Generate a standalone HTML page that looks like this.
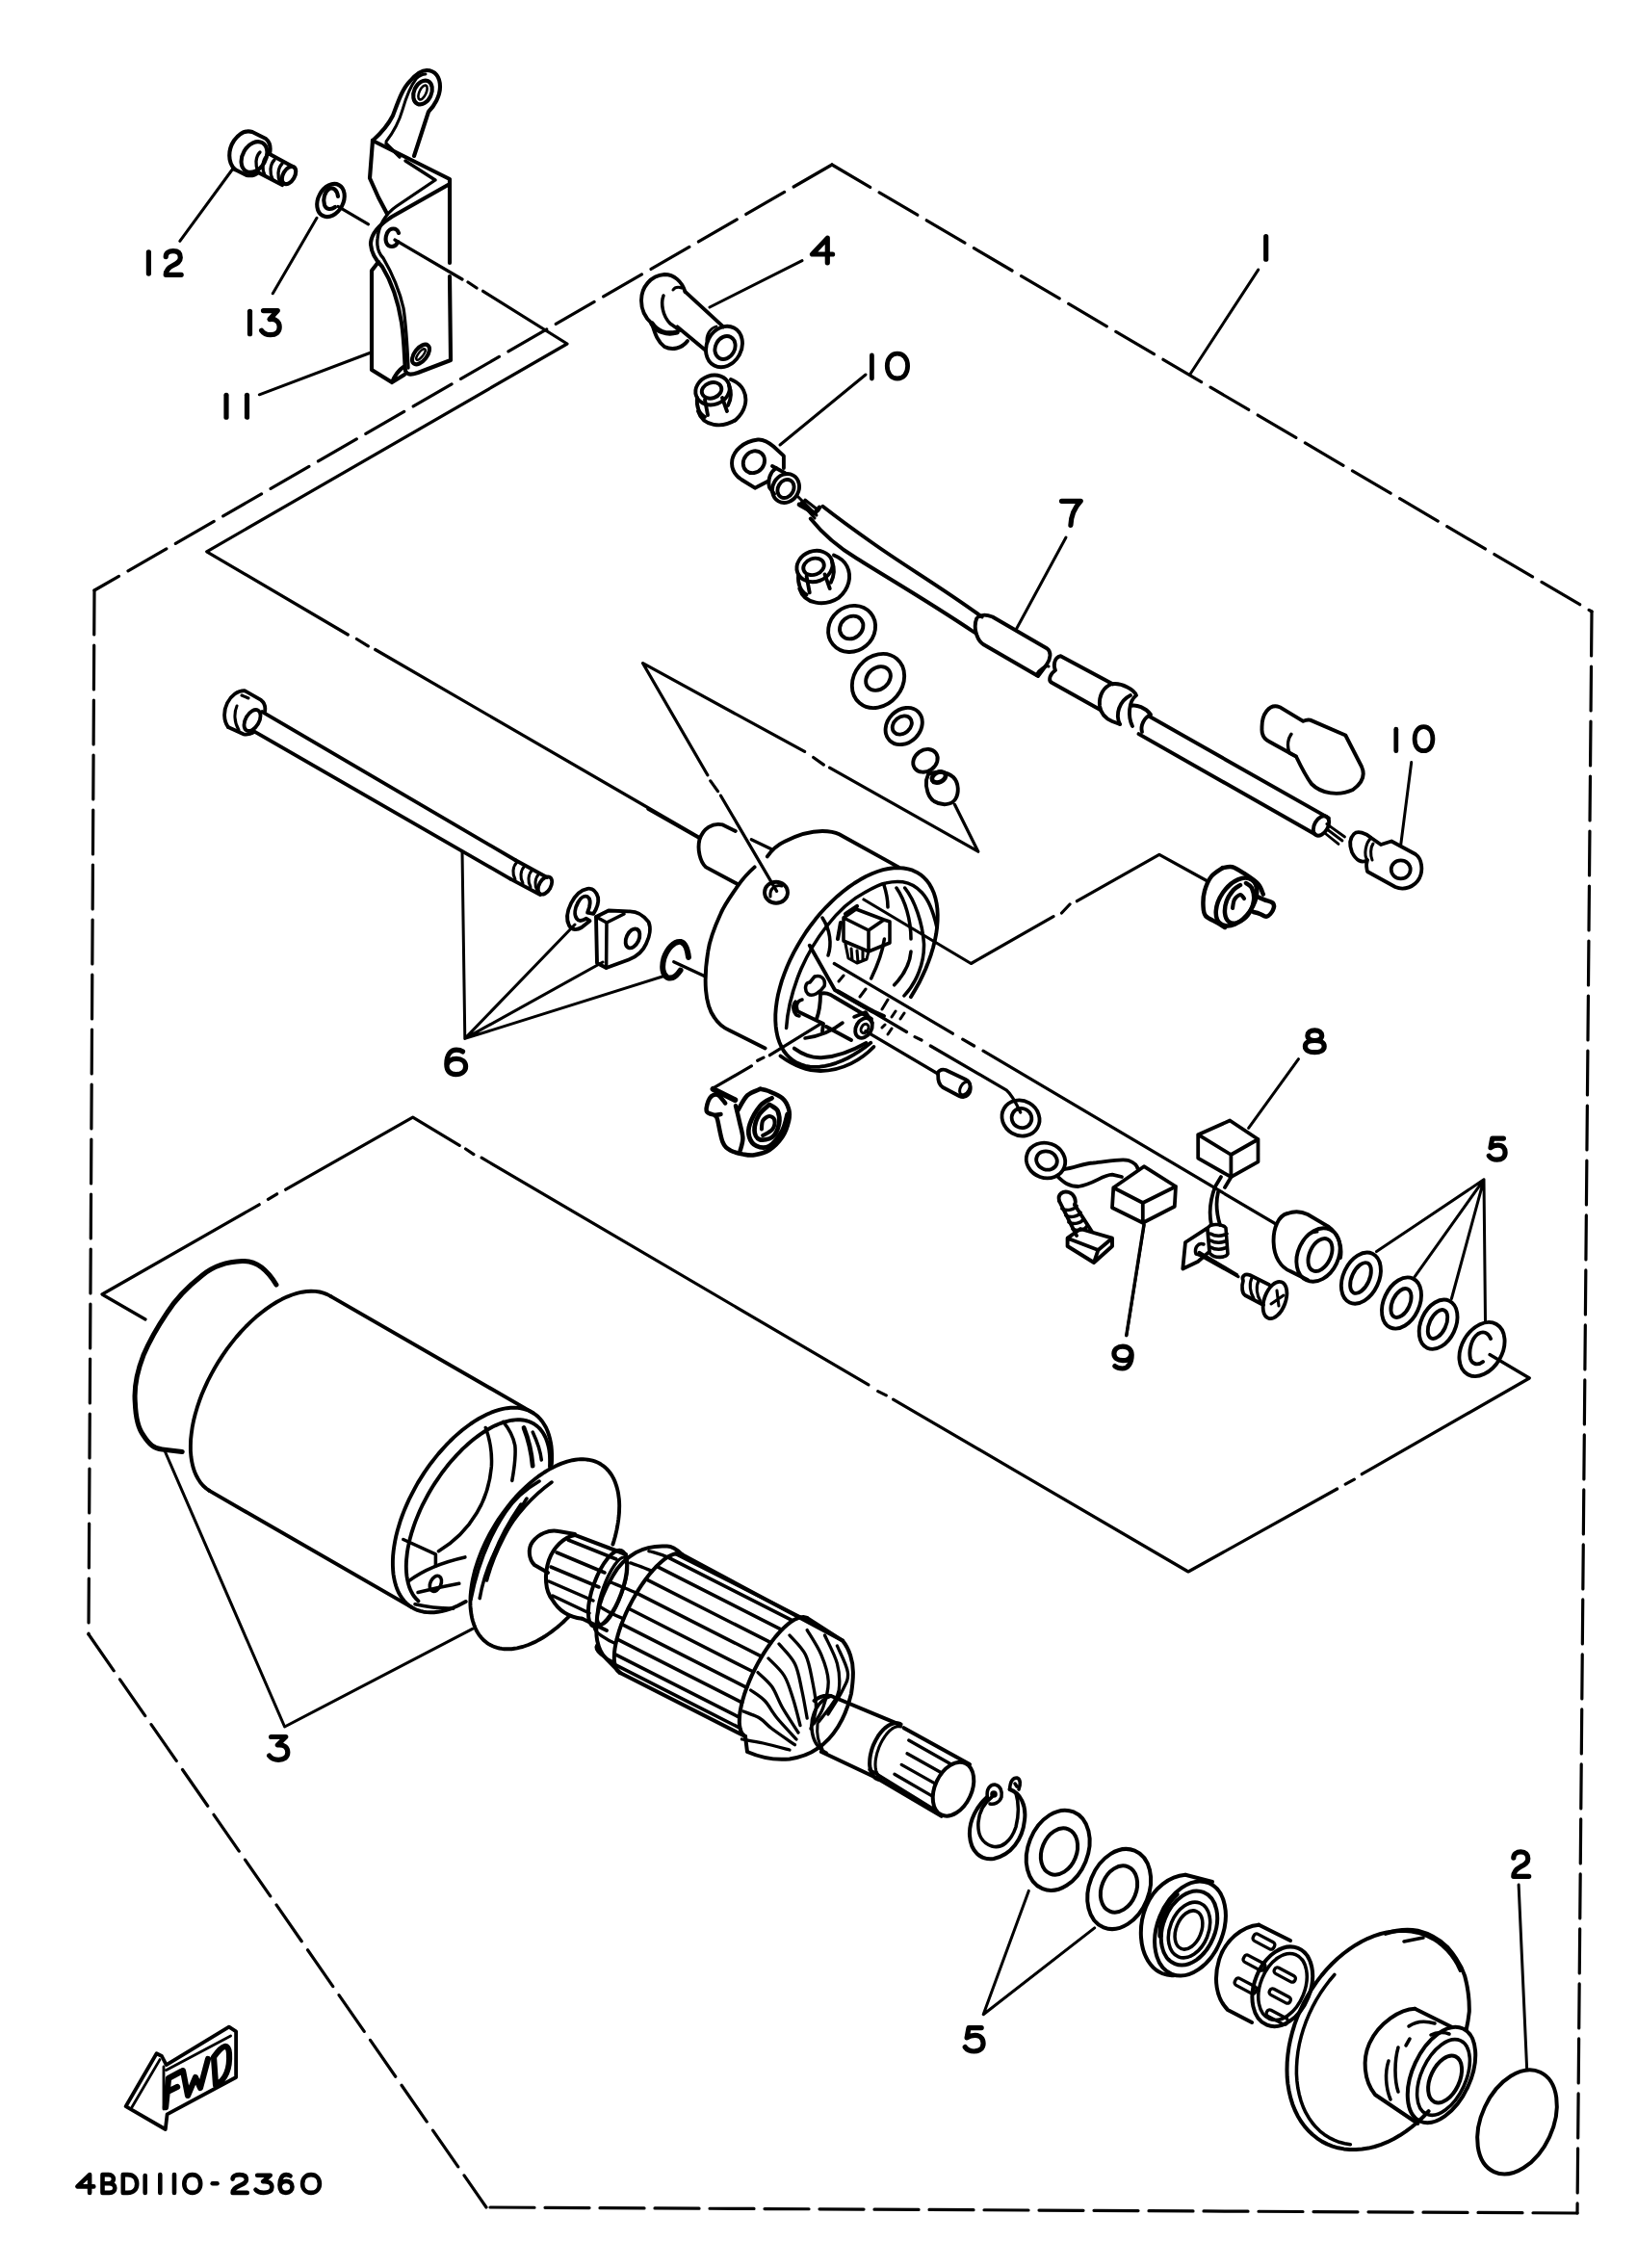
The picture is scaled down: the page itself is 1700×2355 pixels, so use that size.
<!DOCTYPE html>
<html><head><meta charset="utf-8">
<style>
html,body{margin:0;padding:0;background:#fff;overflow:hidden;}
svg{display:block;}
</style></head>
<body>
<svg width="1700" height="2355" viewBox="0 0 1700 2355" fill="none" stroke="#000" stroke-width="3" stroke-linecap="round" stroke-linejoin="round">
<!-- boundary -->
<g stroke-width="3.2" stroke-dasharray="46 11">
<path d="M864 171 L1653 635"/>
<path d="M864 171 L98 613"/>
<path d="M98 613 L92 1697"/>
<path d="M92 1697 L505 2292"/>
<path d="M1638 2298 L505 2292"/>
<path d="M1653 635 L1638 2298"/>
</g>
<!-- labels -->
<g>
<path d="M 154.4 261.8 L 154.4 284.1" stroke-width="5.2"/>
<path d="M 172.2 266.6 C 172.2 262.8 175.5 260.6 179.8 260.6 C 184.8 260.6 187.3 263.2 187.3 267.4 C 187.3 271.7 184.0 273.4 179.8 275.5 C 174.7 278.0 172.2 281.0 172.2 285.3 L 188.2 285.3" stroke-width="5.2"/>
<path d="M 259.5 323.3 L 259.5 346.7" stroke-width="5.2"/>
<path d="M 273.5 322.6 L 288.3 322.6 L 280.0 331.6 C 286.5 330.7 290.2 334.3 290.2 339.6 C 290.2 345.0 286.5 347.7 280.9 347.7 C 277.2 347.7 273.5 345.9 271.6 343.2" stroke-width="5.2"/>
<path d="M 235.0 410.3 L 235.0 433.2" stroke-width="5.2"/>
<path d="M 256.5 410.3 L 256.5 433.2" stroke-width="5.2"/>
<path d="M 859.3 272.8 L 859.3 247.2 L 843.5 264.0 L 864.6 264.0" stroke-width="5.2"/>
<path d="M 905.4 369.0 L 905.4 393.0" stroke-width="4.8"/>
<path d="M 931.9 367.2 C 938.4 367.2 942.6 372.5 942.6 380.1 C 942.6 387.7 938.4 393.0 931.9 393.0 C 925.5 393.0 921.3 387.7 921.3 380.1 C 921.3 372.5 925.5 367.2 931.9 367.2 Z" stroke-width="4.8"/>
<path d="M 1314.7 245.7 L 1314.7 269.2" stroke-width="5.2"/>
<path d="M 1102.5 520.3 L 1122.3 520.3 C 1116.3 526.6 1112.4 533.7 1111.9 545.4" stroke-width="5.2"/>
<path d="M 1449.8 757.2 L 1449.8 779.7" stroke-width="4.8"/>
<path d="M 1478.5 754.7 C 1484.2 754.7 1487.9 759.8 1487.9 767.2 C 1487.9 774.6 1484.2 779.7 1478.5 779.7 C 1472.8 779.7 1469.1 774.6 1469.1 767.2 C 1469.1 759.8 1472.8 754.7 1478.5 754.7 Z" stroke-width="4.8"/>
<path d="M 1365.3 1069.8 C 1369.7 1069.8 1372.7 1072.2 1372.7 1075.3 C 1372.7 1078.5 1369.7 1080.5 1365.3 1080.5 C 1360.9 1080.5 1357.9 1078.5 1357.9 1075.3 C 1357.9 1072.2 1360.9 1069.8 1365.3 1069.8 Z M 1365.3 1080.5 C 1371.2 1080.5 1375.2 1082.8 1375.2 1086.4 C 1375.2 1090.3 1371.2 1092.7 1365.3 1092.7 C 1359.4 1092.7 1355.4 1090.3 1355.4 1086.4 C 1355.4 1082.8 1359.4 1080.5 1365.3 1080.5 Z" stroke-width="5.2"/>
<path d="M 1561.4 1182.1 L 1549.7 1182.1 L 1548.0 1191.6 C 1550.1 1190.0 1552.2 1189.2 1555.5 1189.2 C 1560.6 1189.2 1563.1 1192.4 1563.1 1196.7 C 1563.1 1201.4 1559.7 1204.2 1554.7 1204.2 C 1550.9 1204.2 1548.0 1202.6 1546.3 1200.2" stroke-width="5.2"/>
<path d="M 1174.7 1406.8 C 1173.8 1410.7 1170.6 1412.7 1166.0 1412.7 C 1160.6 1412.7 1156.9 1409.9 1156.9 1405.6 C 1156.9 1401.3 1160.6 1398.1 1166.0 1398.1 C 1171.5 1398.1 1175.2 1401.3 1175.2 1406.8 C 1175.2 1415.5 1171.5 1421.0 1165.6 1421.0 C 1162.4 1421.0 1159.7 1420.2 1157.9 1418.6" stroke-width="5.2"/>
<path d="M 480.5 1091.9 C 479.0 1090.8 476.5 1090.1 474.0 1090.1 C 467.4 1090.1 463.8 1096.3 463.8 1105.0 C 463.8 1112.1 467.4 1115.6 473.4 1115.6 C 479.5 1115.6 483.6 1112.1 483.6 1107.2 C 483.6 1102.4 479.5 1099.3 474.0 1099.3 C 468.4 1099.3 464.9 1102.4 464.1 1105.9" stroke-width="5.2"/>
<path d="M 281.6 1803.5 L 296.8 1803.5 L 288.2 1812.0 C 294.9 1811.1 298.8 1814.5 298.8 1819.6 C 298.8 1824.7 294.9 1827.3 289.2 1827.3 C 285.4 1827.3 281.6 1825.6 279.6 1823.0" stroke-width="5.2"/>
<path d="M 1019.2 2105.6 L 1006.0 2105.6 L 1004.1 2116.0 C 1006.5 2114.3 1008.8 2113.4 1012.6 2113.4 C 1018.2 2113.4 1021.1 2116.9 1021.1 2121.7 C 1021.1 2126.9 1017.3 2130.0 1011.6 2130.0 C 1007.4 2130.0 1004.1 2128.2 1002.2 2125.6" stroke-width="5.2"/>
<path d="M 1571.8 1929.1 C 1571.8 1925.1 1575.1 1922.9 1579.3 1922.9 C 1584.3 1922.9 1586.8 1925.6 1586.8 1929.9 C 1586.8 1934.3 1583.5 1936.0 1579.3 1938.2 C 1574.3 1940.8 1571.8 1943.9 1571.8 1948.3 L 1587.7 1948.3" stroke-width="5.2"/>
<path d="M 93.1 2276.9 L 93.1 2258.1 L 80.4 2270.4 L 97.3 2270.4" stroke-width="4.6"/>
<path d="M 106.5 2258.1 L 106.5 2276.9 L 113.6 2276.9 C 117.2 2276.9 119.3 2275.0 119.3 2272.1 C 119.3 2269.1 117.2 2267.2 113.6 2267.2 L 106.5 2267.2 M 106.5 2258.1 L 112.9 2258.1 C 115.8 2258.1 117.9 2260.0 117.9 2262.6 C 117.9 2265.2 115.8 2267.2 112.9 2267.2" stroke-width="4.6"/>
<path d="M 127.8 2258.1 L 127.8 2276.9 L 132.6 2276.9 C 139.0 2276.9 142.2 2273.0 142.2 2267.5 C 142.2 2262.0 139.0 2258.1 132.6 2258.1 Z" stroke-width="4.6"/>
<path d="M 150.7 2259.1 L 150.7 2276.9" stroke-width="4.6"/>
<path d="M 166.3 2258.1 L 166.3 2276.9" stroke-width="4.6"/>
<path d="M 181.0 2258.1 L 181.0 2276.9" stroke-width="4.6"/>
<path d="M 199.8 2258.1 C 204.8 2258.1 208.2 2262.0 208.2 2267.5 C 208.2 2273.0 204.8 2276.9 199.8 2276.9 C 194.7 2276.9 191.3 2273.0 191.3 2267.5 C 191.3 2262.0 194.7 2258.1 199.8 2258.1 Z" stroke-width="4.6"/>
<path d="M 220.7 2267.2 L 225.5 2267.2" stroke-width="4.6"/>
<path d="M 241.6 2262.6 C 241.6 2259.7 244.8 2258.1 248.8 2258.1 C 253.5 2258.1 255.9 2260.0 255.9 2263.3 C 255.9 2266.5 252.7 2267.8 248.8 2269.5 C 244.0 2271.4 241.6 2273.7 241.6 2276.9 L 256.7 2276.9" stroke-width="4.6"/>
<path d="M 267.2 2258.7 L 280.7 2258.7 L 273.1 2265.2 C 279.0 2264.6 282.4 2267.2 282.4 2271.1 C 282.4 2275.0 279.0 2276.9 273.9 2276.9 C 270.6 2276.9 267.2 2275.6 265.5 2273.7" stroke-width="4.6"/>
<path d="M 301.5 2259.4 C 300.5 2258.5 298.9 2258.1 297.2 2258.1 C 292.8 2258.1 290.5 2262.6 290.5 2269.1 C 290.5 2274.3 292.8 2276.9 296.9 2276.9 C 300.9 2276.9 303.5 2274.3 303.5 2270.8 C 303.5 2267.2 300.9 2264.9 297.2 2264.9 C 293.5 2264.9 291.2 2267.2 290.7 2269.8" stroke-width="4.6"/>
<path d="M 323.0 2258.1 C 328.4 2258.1 331.9 2262.0 331.9 2267.5 C 331.9 2273.0 328.4 2276.9 323.0 2276.9 C 317.6 2276.9 314.1 2273.0 314.1 2267.5 C 314.1 2262.0 317.6 2258.1 323.0 2258.1 Z" stroke-width="4.6"/>
</g>
<!-- leaders -->
<g stroke-width="3.0">
<path d="M186.8,250.4 L242,175"/>
<path d="M283.3,304.8 L329,226.3"/>
<path d="M269.3,409.8 L384,366.5"/>
<path d="M833,270.6 L737,319"/>
<path d="M899,389 L810,462"/>
<path d="M1306.7,280.1 L1235.8,388.8"/>
<path d="M1107,558 L1055,654"/>
<path d="M1465.7,791.6 L1454.7,877.2"/>
<path d="M1348.5,1099.6 L1296.6,1171.3"/>
<path d="M1429.5,1299.6 L1541,1224.8 L1469.2,1325.6 M1541,1224.8 L1507.4,1348.5 M1541,1224.8 L1542.5,1371.4"/>
<path d="M1169.9,1386.7 L1188.2,1272.1"/>
<path d="M480,884 L482.8,1078.4 L597,960 M482.8,1078.4 L626,999 M482.8,1078.4 L688,1014"/>
<path d="M171.3,1507 L295.6,1793 L490.6,1691.4"/>
<path d="M1068.3,1963.4 L1021.2,2091.7 L1136.7,2001.9"/>
<path d="M1577.1,1957 L1585.7,2149.4"/>
</g>
<!-- chains -->
<g stroke-width="3.2">
<path d="M351,214.4 L382.5,232.8"/>
<path d="M410,249 L480,290 M486,293 L495,299 M501.6,302.3 L589,357 L214.7,572.8 L361.3,659 M370.4,663.5 L382.3,670.9 M389.7,674.5 L727,870"/>
<path d="M806.6,925.4 L748.5,826.2 M745.5,821.6 L737.8,810.9 M734.8,804.8 L667.6,688.7 L835.6,780.4 M844.7,786.5 L855.4,794.1 M861.5,797.2 L1015.8,884.2 L991.4,835.3"/>
<path d="M1547,1406.5 L1588.3,1431 L1414.3,1530.7 M1406.4,1536.2 L1397.2,1541.1 M1388.6,1546 L1234,1632 L927.6,1453.1 M920.3,1448.9 L911.7,1444.6 M901.9,1437.9 L500.1,1202.2 M491.9,1198.6 L483.6,1193 M477.2,1189.4 L428.7,1160.1 L296.7,1235.2 M287.6,1239.8 L278.4,1245.3 M269.2,1250.8 L106,1344 L151,1370"/>
<path d="M897,934 L1008.4,1000.5 L1094,951.6 M1102.5,948 L1111,939 M1118.4,935.7 L1203.9,887.4 L1254,915"/>
<path d="M866.3,1000.5 L989.4,1073.2 M999.7,1079.2 L1011.6,1086 M1021,1091.2 L1324.9,1271"/>
<path d="M870.5,1029.6 L941.5,1071.5 M950,1076.6 L957,1080 M966.3,1086 L1045,1131.8 C1050,1136 1055,1145 1059.7,1155"/>
<path d="M898.8,1070.7 L974,1115"/>
<path d="M871,1019 L876,1013 M893,1035 L899,1027 M916,1048 L922,1038 M926,1056 L930,1050 M935,1058 L939,1052 M916,1067 L919,1064 M922,1074 L926,1068" stroke-width="3"/>
<path d="M870.5,1029.6 L906,1050" stroke-width="4.5"/>
<path d="M1244.7,1302.7 L1285.9,1325.6"/>
</g>
<!-- bracket11 -->
<g stroke-width="4.13">
<path d="M387,146 C396,138 403,130 408,120 C414,104 418,92 426,84 C432,77 437,73 443,73 C452,73 457,80 457,90 C457,100 451,110 445,116 L430,162"/>
<path d="M401,147 C408,138 414,128 418,114 C422,100 426,90 432,82 C436,78 439,77 442,77" stroke-width="2.95"/>
<ellipse cx="439" cy="96" rx="9" ry="13" transform="rotate(25 439 96)"/>
<ellipse cx="439" cy="96" rx="3.5" ry="8" transform="rotate(25 439 96)" stroke-width="2.60"/>
<path d="M387,146 L467,186 L467,191 L407,225 C396,232 386,242 385,252 C385,262 390,270 397,277 C405,290 413,310 417,335 C420,355 420,375 421,385 C423,390 428,389 434,387 L468,374 L467,287 M467,273 L467,191"/>
<path d="M401,149 L415,163 M421,167 L452,187 L412,214 C400,222 393,235 392,248 C391,258 394,264 398,268 C405,280 414,298 419,320 C422,340 423,360 424,382" stroke-width="3.30"/>
<path d="M387,146 L384,185 L393,205 L402,222"/>
<path d="M386,281 L393,272 M386,281 L386,384 L407,397 L420,389 M407,397 C410,390 413,385 419,381"/>
<path d="M414,242 C412,236 405,236 402,242 C399,249 401,256 407,256 C410,256 412,254 413,251"/>
<ellipse cx="437" cy="368" rx="12" ry="6.5" transform="rotate(-52 437 368)"/>
<ellipse cx="437" cy="368" rx="7" ry="2.5" transform="rotate(-52 437 368)" stroke-width="2.36"/>
</g>
<!-- bolt12 -->
<g stroke-width="4.13">
<path d="M244,176 C236,168 237,155 243,146 C249,138 256,135 262,137 L276,144 C281,148 281,155 280,160"/>
<path d="M244,176 L256,182 C262,183 266,181 268,179"/>
<ellipse cx="264" cy="163" rx="12" ry="17" transform="rotate(30 264 163)"/>
<path d="M280,160 L304,173 M268,179 L293,192"/>
<ellipse cx="300" cy="182" rx="6" ry="10" transform="rotate(30 300 182)"/>
<path d="M270,158 C265,163 265,172 268,178 M277,162 C272,167 272,176 275,182 M285,166 C280,171 280,180 283,186 M293,170 C288,175 288,184 291,190" stroke-width="3.30"/>
</g>
<!-- washer13 -->
<g stroke-width="4.13">
<ellipse cx="343.5" cy="208" rx="13" ry="18" transform="rotate(28 343.5 208)"/>
<path d="M351,204 C350,197 346,194 342,196 C337,199 335,207 337,213 C339,218 344,218 348,215"/>
</g>
<!-- fwd -->
<g stroke-width="3.78">
<path d="M130.6,2187.2 L162.6,2132.2 L168,2135 L172.7,2144.1 L237.8,2104.7 L245.1,2109.3 L245.1,2157 L173.6,2195.4 L171.8,2211 Z"/>
<path d="M137,2188 L166,2138.6 M172.7,2149.6 L239.6,2113.9 M170,2146 L170,2190" stroke-width="2.83"/>
<path d="M172,2188 L175,2158 L188,2151 M174,2172 L184,2167" stroke-width="6.37"/>
<path d="M190,2150 L195,2176 L203,2157 L208,2168 L216,2138" stroke-width="6.14"/>
<path d="M222,2136 L224,2165 C234,2160 239,2148 238,2132 C237,2122 232,2122 222,2136 Z" stroke-width="6.14"/>
</g>
<!-- part4 -->
<g stroke-width="3.89">
<path d="M711.5,302.9 C708,292 700,285 690,285 C676,286 666,298 666,312 C666,322 670,330 677,336 C680,345 682,354 690,360 C698,364 708,362 714,354"/>
<path d="M711.5,302.9 L751.2,339.4 M703.5,339.4 L732.1,363.2"/>
<path d="M689,307 C686,315 688,328 696,336 L706,343" stroke-width="3.54"/>
<path d="M699,301 C701,298 705,298 708,299" stroke-width="3.07"/>
<path d="M677,336 C682,344 692,348 703,345" stroke-width="5.31"/>
<ellipse cx="752" cy="360" rx="18" ry="22" transform="rotate(28 752 360)"/>
<ellipse cx="753" cy="361" rx="10" ry="12.5" transform="rotate(28 753 361)"/>
<path d="M734,356 C733,348 737,341 744,339" stroke-width="2.83"/>
</g>
<!-- nuts -->
<g transform="translate(740.0 405.0) scale(1.000)" stroke-width="3.89">
<ellipse cx="0" cy="0" rx="18" ry="15" transform="rotate(-20)"/>
<ellipse cx="-1" cy="0" rx="10.5" ry="8" transform="rotate(-20)"/>
<path d="M-16,8 C-17,17 -14,25 -8,28 M17,-5 C20,2 19,10 16,16"/>
<path d="M-15,22 C-10,38 10,40 24,31 C34,22 37,10 32,0 C29,-6 24,-9 19,-11"/>
<path d="M-8,10 L-5,26 M10,8 L15,22"/>
</g><g transform="translate(846.0 588.0) scale(1.050)" stroke-width="3.71">
<ellipse cx="0" cy="0" rx="18" ry="15" transform="rotate(-20)"/>
<ellipse cx="-1" cy="0" rx="10.5" ry="8" transform="rotate(-20)"/>
<path d="M-16,8 C-17,17 -14,25 -8,28 M17,-5 C20,2 19,10 16,16"/>
<path d="M-15,22 C-10,38 10,40 24,31 C34,22 37,10 32,0 C29,-6 24,-9 19,-11"/>
<path d="M-8,10 L-5,26 M10,8 L15,22"/>
</g>
<!-- terminal10a -->
<g stroke-width="3.89">
<path d="M803.5,463.8 C798,459 793,456 787,456.5 C773,458 760,468 760,481 C760,488 764,494 770,498 L784,506.7 L797,500 M803.5,463.8 L813.9,473.4 L813.9,486"/>
<ellipse cx="782.9" cy="479.7" rx="10.5" ry="12" transform="rotate(40 782.9 479.7)"/>
<ellipse cx="816" cy="507" rx="13.5" ry="15.5" transform="rotate(30 816 507)"/>
<ellipse cx="816" cy="507.5" rx="8" ry="10" transform="rotate(30 816 507.5)"/>
<path d="M806,486 C800,490 797,498 799,506 L804,513"/>
<path d="M802,484 L815,491"/>
</g>
<!-- cable7 -->
<g stroke-width="3.89">
<path d="M854.4,525.8 C870,538 885,549 905,563 C940,588 975,608 1019.7,640.5"/>
<path d="M841.7,538.5 C855,555 870,568 890,580 C925,602 965,625 1012.4,657"/>
<path d="M829,516 L848,535 M832,522 L846,538 M836,519 L850,530" stroke-width="3.07"/>
<path d="M830,524 L846,533 L851,527" stroke-width="4.72"/>
<path d="M1014.2,642.3 C1017,638 1024,638 1030.7,640.5 L1087.5,673.5 C1092,677 1091,684 1087,690 L1078,702 L1021,669 C1013,663 1011,650 1014.2,642.3 Z"/>
<path d="M1076,701 C1080,694 1086,691 1089,692" stroke-width="3.07"/>
<path d="M1101.5,681.2 L1155.5,710.2 M1091.2,708.2 L1143,737.2 M1101.5,681.2 C1094,683 1094,692 1096,696 C1090,700 1089,706 1091.2,708.2"/>
<path d="M1155,710 C1146,713 1141,722 1142,733 C1143,740 1148,746 1155,749 L1163,752"/>
<path d="M1155.5,710.2 C1165,709 1178,716 1180,722 M1163,752 C1158,742 1162,728 1174,722 M1180,722 C1172,728 1171,744 1176,754 M1174,733 C1180,731 1190,735 1195,742 C1188,745 1184,754 1186,760"/>
<path d="M1193,743.5 L1379.8,849.4 M1182.5,762.1 L1365.3,866"/>
<ellipse cx="1372" cy="857.5" rx="7" ry="11" transform="rotate(30 1372 857.5)"/>
<path d="M1377.8,855.6 L1396.5,869 M1378,861 L1394,873 M1377,866 L1390,876.4" stroke-width="2.83"/>
</g>
<!-- washers_top -->
<g stroke-width="3.89">
<ellipse cx="884.6" cy="652.9" rx="23" ry="25.5" transform="rotate(50 884.6 652.9)"/>
<ellipse cx="884.2" cy="651.5" rx="11" ry="13" transform="rotate(50 884.2 651.5)"/>
<ellipse cx="912" cy="707" rx="25" ry="30" transform="rotate(40 912 707)"/>
<ellipse cx="912" cy="704.5" rx="11" ry="14" transform="rotate(50 912 704.5)"/>
<ellipse cx="938.7" cy="754" rx="17" ry="21" transform="rotate(45 938.7 754)"/>
<ellipse cx="936.8" cy="753" rx="8.5" ry="11" transform="rotate(50 936.8 753)"/>
<ellipse cx="961" cy="789.8" rx="11" ry="13.5" transform="rotate(55 961 789.8)"/>
<path d="M964,804 C971,800 983,801 990,807 C996,813 996,824 992,830 C988,836 978,837 970,832 C964,828 961,818 962,810 Z"/>
<ellipse cx="975" cy="807" rx="7.5" ry="5" transform="rotate(-25 975 807)" stroke-width="4.72"/>
</g>
<!-- cap10 -->
<g stroke-width="3.89">
<path d="M1353.3,748.9 L1328.9,734.2 C1318,730 1310,742 1310.5,756.2 C1310,763 1312,767 1318,770 L1346,785.5 C1352,798 1356,806 1362,814 C1372,824 1390,827 1405,820 C1415,813 1418,805 1414,796 L1397.3,763.5 L1360.6,747.6 C1357,747 1355,748 1353.3,748.9 Z"/>
<path d="M1341,762.3 C1337,768 1337,776 1339,782 L1346,785.5" stroke-width="3.30"/>
</g>
<!-- terminal10b -->
<g stroke-width="3.78">
<path d="M1406,866 C1410,862 1418,865 1424,870 L1434,877 L1445,873.5 L1470,887 C1477,892 1478,904 1474,912 C1469,921 1458,925 1449,921 L1420,905 C1419,900 1418,898 1420,893 C1414,897 1408,893 1404,885 C1401,877 1402,870 1406,866 Z"/>
<ellipse cx="1454.7" cy="902.8" rx="10" ry="9.5"/>
<path d="M1420,893 C1416,888 1418,875 1424,870 M1426,876 C1423,880 1423,888 1425,893" stroke-width="3.07"/>
</g>
<!-- longbolt -->
<g stroke-width="3.78">
<path d="M236.9,755 C232,748 232,738 236,730 C240,722 247,717 254,717.1 L271.1,726.9 C275,730 276,735 274.8,740"/>
<path d="M236.9,755 L252.8,762.3 C257,763 261,762 264,760"/>
<path d="M246,733 C243,740 243,750 248,758 M251,722 L258,725" stroke-width="3.07"/>
<ellipse cx="262" cy="748" rx="7" ry="12" transform="rotate(30 262 748)"/>
<path d="M272.3,739.1 L535,893 M262.5,758.6 L530,912.6"/>
<path d="M535,893 L568,911 M530,912.6 L561,929"/>
<ellipse cx="566" cy="919.5" rx="6" ry="10" transform="rotate(30 566 919.5)"/>
<path d="M537,895 C532,900 532,908 535,913 M545,899 C540,904 540,912 543,917 M553,903 C548,908 548,916 551,921 M560,907 C555,912 555,920 558,925" stroke-width="3.07"/>
</g>
<!-- washers6 -->
<g stroke-width="3.89">
<path d="M616.2,948.9 C620,943 622,938 621.1,932 C619,925 615,922 610,922.8 C603,924 597,930 593,938 C589,946 588,955 591,961 C594,966 599,966 604,963 L612.5,956.2 L608.9,953.8 C605,956 601,957 599,954 C596,950 597,943 600.3,937 C603,932 607,930 610,931 C613,933 613,938 612,942 L610.1,947.6 Z"/>
<path d="M619,952 L632,945.5 L652.9,946.4 C660,946 668,950 673.6,957.4 C676,963 675,972 671,980 C668,987 662,993 652.9,996.5 L629.6,1005 L620,1000 Z"/>
<path d="M619,952 L630,958 L629.6,1005 M630,958 L648,949" stroke-width="3.54"/>
<ellipse cx="657" cy="974.4" rx="6.5" ry="10.5" transform="rotate(25 657 974.4)"/>
<path d="M715,994 C714,986 712,979 707,978 C700,977 693,985 689.5,995 C687,1004 688,1012 693,1015 C698,1017 703,1013 706.6,1007.5" stroke-width="5.90"/>
<path d="M699.7,998.8 L731.5,1013.5" stroke-width="3.30"/>
</g>
<!-- endframe -->
<g stroke-width="3.89">
<path d="M763.8,863 L750.6,856.4 C740,854 730,860 726.4,872 C724,882 727,895 733,900.4 L766,918"/>
<path d="M726.6,870.5 L672.9,840" stroke-width="3.30"/>
<path d="M780.3,871.8 L801.2,881.7" stroke-width="3.30"/>
<path d="M796.8,889.4 C802,882 808,877 814.4,874 C828,867 842,863 854,863 C862,863 867,864 871.5,866.3 L933.1,900.4"/>
<path d="M783.6,900.4 C776,907 771,913 766,920.2 C758,932 752,940 748.4,948.8 C741,965 737,975 735.2,988.3 C733,1002 732,1015 733,1028 C734,1040 737,1050 741.8,1056.5 C746,1063 751,1067 757.2,1069.7 L794.6,1088.4"/>
<ellipse cx="806" cy="926.7" rx="12" ry="11"/>
<path d="M812,920 C805,918 799,923 800,931" stroke-width="3.07"/>
<path d="M904.2,1082.8 L898.2,1087.5 L892.2,1091.7 L886.2,1095.4 L880.2,1098.7 L874.2,1101.5 L868.3,1103.8 L862.6,1105.6 L856.9,1106.9 L851.4,1107.7 L846.2,1107.9 L841.1,1107.6 L836.3,1106.8 L831.8,1105.4 L827.5,1103.6 L823.6,1101.2 L820.0,1098.3 L816.8,1095.0 L813.9,1091.2 L811.5,1086.9 L809.4,1082.2 L807.7,1077.2 L806.5,1071.7 L805.7,1065.9 L805.3,1059.8 L805.3,1053.4 L805.8,1046.8 L806.7,1039.9 L808.0,1032.9 L809.8,1025.7 L811.9,1018.4 L814.5,1011.1 L817.4,1003.7 L820.7,996.3 L824.4,988.9 L828.4,981.7 L832.7,974.5 L837.2,967.5 L842.1,960.7 L847.2,954.1 L852.5,947.8 L858.0,941.8 L863.7,936.1 L869.5,930.7 L875.4,925.7 L881.4,921.1 L887.4,917.0 L893.4,913.3 L899.4,910.0 L905.4,907.3 L911.2,905.0 L917.0,903.2 L922.6,902.0 L928.1,901.3 L933.3,901.1 L938.4,901.5 L943.1,902.3 L947.7,903.7 L951.9,905.7 L955.8,908.1 L959.3,911.0 L962.5,914.4 L965.3,918.2 L967.7,922.5 L969.8,927.2 L971.4,932.4 L972.6,937.8 L973.4,943.7 L973.7,949.8 L973.6,956.2 L973.1,962.9 L972.2,969.7 L970.8,976.8 L969.0,984.0 L966.8,991.3 L964.2,998.6 L961.3,1006.0 L957.9,1013.4 L954.3,1020.8 L950.2,1028.0 L945.9,1035.2" />
<path d="M816.6,1067.5 C818,1045 824,1025 832,1006 C840,988 848,975 858.3,962 C870,947 884,934 898,926.8 C906,922 913,918 920,916.9 C926,915.5 932,915 937.5,915.8 C945,917 951,920 957.3,926.8 C964,934 969,946 972.7,962" stroke-width="3.54"/>
<path d="M917.7,918 C920,925 922,933 922,942" stroke-width="3.54"/>
<path d="M931,922 C940,935 946,955 946,975 M946,988 C945,1000 939,1012 928.7,1022.8" stroke-width="3.54"/>
<path d="M939.7,922 C950,935 958,958 959.5,980 C960,1000 952,1020 939,1033.9" stroke-width="3.54"/>
<path d="M904.7,1016 C910,1005 916,992 918.4,975" stroke-width="3.54"/>
<path d="M854,953 C862,965 864,980 860,992" stroke-width="3.54"/>
<path d="M876,953 L889,944 L918,955 L902,966 Z M876,953 L876,977 L902,988 L902,966 M902,988 L924,979 L924,957 L918,955" stroke-width="3.54"/>
<path d="M878,949 L890,941 M873,958 L870,975" stroke-width="4.13"/>
<path d="M878,980 L881,995 L890,1000 L900,996 L902,988 M884,985 L885,997 M890,987 L891,999 M896,986 L896,997" stroke-width="3.07"/>
<path d="M840.8,981.7 L867,1028 L898,1046 L918,1055"/>
<path d="M841,1020 C836,1020 835,1028 839,1032 C844,1036 852,1030 856,1024 C858,1016 852,1012 846,1014 Z" stroke-width="3.54"/>
<path d="M826,1040 C822,1045 824,1054 830,1055 M833,1038 C828,1039 826,1044 828,1049" stroke-width="3.54"/>
<path d="M828,1050 L855,1063 L854,1071"/>
<path d="M852,1032 C856,1030 862,1032 866,1035 L905,1058 M848,1058 C851,1050 852,1040 852,1032 M858,1066 L884,1080"/>
<ellipse cx="897" cy="1067.5" rx="8" ry="11" transform="rotate(30 897 1067.5)"/>
<ellipse cx="898" cy="1068" rx="3.5" ry="5" transform="rotate(30 898 1068)" stroke-width="2.95"/>
<path d="M810.5,1096.5 C825,1107 840,1112 852,1112 C875,1112 895,1100 907.4,1087"/>
<path d="M824.8,1088.6 C835,1096 845,1099 855,1098 C870,1097 887,1090 899.5,1083"/>
<path d="M836,1078 C850,1076 865,1070 875,1062" stroke-width="3.54"/>
<path d="M887,1056 L899,1051 L906,1062" stroke-width="3.54"/>
</g>
<!-- chains2 -->
<g stroke-width="3.2">
<path d="M853.4,1062.4 L799.4,1095.7 M793,1098.1 L786.7,1101.3 M780.4,1106.9 L740.6,1129.9 L762.9,1142.6"/>
</g>
<!-- spring_top -->
<g><path d="M1269.6,901.2 C1267.7,902.7 1261.1,906.0 1258.0,910.0 C1254.9,914.0 1252.4,920.0 1251.0,925.0 C1249.6,930.0 1249.3,935.7 1249.5,940.0 C1249.7,944.3 1249.6,948.0 1252.0,951.0 C1254.4,954.0 1260.7,956.0 1264.0,958.0 C1267.3,960.0 1270.7,962.2 1272.0,963.0" stroke-width="4.48"/>
<path d="M1269.6,901.2 C1271.3,901.0 1276.0,899.3 1279.7,900.2 C1283.4,901.1 1287.2,903.8 1291.6,906.7 C1296.0,909.6 1302.9,914.0 1306.3,917.6 C1309.7,921.2 1310.9,926.8 1311.8,928.6" stroke-width="4.48"/>
<ellipse cx="1284" cy="936.5" rx="17" ry="28" transform="rotate(35 1284 936.5)" stroke-width="4.48"/>
<path d="M1294.0,917.0 C1295.0,917.8 1298.7,919.0 1300.0,922.0 C1301.3,925.0 1302.7,930.3 1302.0,935.0 C1301.3,939.7 1298.8,946.2 1296.0,950.0 C1293.2,953.8 1288.3,956.8 1285.0,958.0 C1281.7,959.2 1278.2,958.7 1276.0,957.0 C1273.8,955.3 1272.3,951.7 1272.0,948.0 C1271.7,944.3 1272.5,939.0 1274.0,935.0 C1275.5,931.0 1278.7,926.7 1281.0,924.0 C1283.3,921.3 1286.8,919.8 1288.0,919.0" stroke-width="4.48"/>
<path d="M1280.0,943.0 C1280.3,941.5 1280.7,936.3 1282.0,934.0 C1283.3,931.7 1286.3,929.2 1288.0,929.0 C1289.7,928.8 1291.3,932.3 1292.0,933.0" stroke-width="4.13"/>
<path d="M1302.6,929.6 C1304.3,930.4 1309.5,932.7 1312.7,934.1 C1315.9,935.5 1320.4,936.0 1321.9,937.8 C1323.4,939.6 1323.0,942.8 1321.9,945.1 C1320.8,947.4 1317.8,951.0 1315.5,951.6 C1313.2,952.2 1310.4,949.6 1308.1,948.8 C1305.8,948.0 1302.8,947.3 1301.7,947.0" stroke-width="4.48"/></g>
<!-- spring_bot -->
<g><path d="M740.5,1130.8 L763.3,1142.2" stroke-width="5.90"/>
<path d="M789.5,1130.8 C790.9,1131.1 793.8,1131.2 797.6,1132.8 C801.4,1134.4 808.8,1137.1 812.4,1140.2 C816.0,1143.3 818.0,1147.7 819.1,1151.6 C820.2,1155.5 820.2,1158.9 819.1,1163.7 C818.0,1168.5 815.8,1175.5 812.4,1180.5 C809.0,1185.5 803.8,1190.9 799.0,1194.0 C794.2,1197.1 788.0,1198.5 783.5,1199.3 C779.0,1200.1 776.1,1199.4 772.0,1198.6 C767.9,1197.8 762.2,1196.7 758.6,1194.6 C755.0,1192.5 752.7,1191.2 750.5,1185.9 C748.3,1180.6 746.4,1167.5 745.2,1163.0 C744.0,1158.5 743.5,1159.7 743.1,1159.0" stroke-width="4.48"/>
<path d="M789.5,1130.8 C787.2,1131.9 779.8,1133.9 776.0,1137.5 C772.2,1141.1 768.2,1149.8 766.7,1152.3" stroke-width="4.48"/>
<path d="M801.6,1140.2 C799.6,1141.5 793.3,1143.7 789.5,1148.2 C785.7,1152.7 780.7,1161.6 778.8,1167.0 C776.9,1172.4 777.0,1176.7 778.1,1180.5 C779.2,1184.3 782.0,1188.3 785.5,1189.9 C789.0,1191.5 794.5,1192.6 799.0,1189.9 C803.5,1187.2 809.3,1179.3 812.4,1173.8 C815.5,1168.3 816.8,1159.8 817.7,1157.0" stroke-width="4.72"/>
<path d="M799.0,1146.9 C797.2,1148.7 790.8,1153.1 788.2,1157.6 C785.6,1162.1 783.4,1169.5 783.5,1173.8 C783.6,1178.1 785.7,1182.1 788.8,1183.2 C791.9,1184.3 798.9,1183.2 802.3,1180.5 C805.7,1177.8 808.1,1171.5 809.0,1167.0 C809.9,1162.5 809.0,1156.8 807.7,1153.6 C806.4,1150.4 802.1,1148.9 801.0,1148.0" stroke-width="4.72"/>
<path d="M790.9,1172.4 C791.1,1171.0 790.9,1165.9 792.2,1163.7 C793.6,1161.5 797.0,1159.1 799.0,1159.0 C801.0,1158.9 803.8,1160.8 804.3,1163.0 C804.8,1165.2 804.3,1169.7 802.3,1172.4 C800.3,1175.1 793.9,1178.0 792.2,1179.1" stroke-width="4.13"/>
<path d="M753.2,1145.5 C751.9,1144.0 747.9,1137.7 745.2,1136.8 C742.5,1135.9 739.0,1137.4 737.1,1140.2 C735.2,1143.0 732.9,1150.7 733.7,1153.6 C734.5,1156.5 739.3,1157.0 741.8,1157.6 C744.3,1158.2 747.4,1157.1 748.5,1157.0" stroke-width="4.48"/>
<path d="M764.0,1148.2 C764.7,1151.0 766.8,1159.4 768.0,1165.0 C769.2,1170.6 771.3,1176.9 771.4,1181.8 C771.5,1186.7 769.2,1192.5 768.7,1194.6" stroke-width="4.48"/></g>
<!-- brushparts -->
<g stroke-width="3.78">
<path d="M974.2,1117 C973,1112 977,1110 982,1111 L1003,1121 C1009,1124 1009,1133 1005,1137 C1002,1140 998,1139 996,1138 L979,1129 C975,1126 974,1121 974.2,1117 Z"/>
<ellipse cx="1002" cy="1130" rx="4.5" ry="7.5" transform="rotate(30 1002 1130)" stroke-width="3.07"/>
<ellipse cx="1060" cy="1161" rx="20" ry="18" transform="rotate(30 1060 1161)"/>
<ellipse cx="1061" cy="1161" rx="10.5" ry="10" transform="rotate(30 1061 1161)"/>
<ellipse cx="1086" cy="1205" rx="20.5" ry="18" transform="rotate(20 1086 1205)"/>
<ellipse cx="1087" cy="1205" rx="11" ry="9.5" transform="rotate(20 1087 1205)"/>
<path d="M1105,1214 C1115,1213 1125,1208 1135.5,1207.5 C1150,1206 1165,1203 1172,1205 C1178,1207 1181,1210 1182,1214.8"/>
<path d="M1098.8,1222.2 C1105,1228 1110,1232 1120,1232 C1135,1230 1145,1220 1155,1219.7 L1165,1222"/>
<path d="M1156.3,1233.2 L1188,1211.2 L1221,1232 L1186.8,1249 Z M1156.3,1233.2 L1155,1254 L1186.8,1269.8 L1219.8,1252.7 L1221,1232 M1186.8,1249 L1186.8,1269.8"/>
<path d="M1188,1271 L1169.7,1386.7" stroke-width="3.30"/>
<path d="M1244.2,1178.2 L1277.2,1163.5 L1306.5,1183 L1278.4,1199 Z M1244.2,1178.2 L1244.2,1202.6 L1278.4,1222.2 L1306.5,1206.3 L1306.5,1183 M1278.4,1199 L1278.4,1222.2"/>
<path d="M1268,1222 L1262,1232 C1257,1245 1255,1258 1258,1272 M1278,1223 L1272,1233 M1265,1238 C1262,1250 1264,1262 1267,1272"/>
<path d="M1228.3,1317.5 L1231,1290 L1253.9,1275.2 L1256,1299.6 L1244,1310 Z"/>
<path d="M1250,1292 C1244,1290 1240,1296 1242,1302 L1246,1303" stroke-width="3.54"/>
<path d="M1255.2,1274 C1258,1270 1270,1271 1273,1275 L1275,1302 C1273,1306 1262,1307 1257,1302 M1257,1281 C1262,1284 1269,1284 1274,1281 M1257,1288 C1262,1291 1269,1291 1274,1288 M1257,1295 C1262,1298 1269,1298 1274,1295" stroke-width="3.54"/>
<path d="M1245.4,1300.4 L1284.5,1323.6" stroke-width="3.30"/>
<path d="M1291,1330 C1289,1325 1293,1322 1298,1324 L1318,1334 M1293,1345 L1312,1355 M1291,1330 C1289,1336 1290,1343 1293,1345"/>
<ellipse cx="1324" cy="1350" rx="11" ry="20" transform="rotate(20 1324 1350)"/>
<path d="M1300,1327 C1297,1333 1298,1342 1302,1348 M1307,1330 C1304,1336 1305,1345 1309,1351" stroke-width="3.07"/>
<path d="M1320,1354 L1333,1345 M1326,1340 L1328,1356" stroke-width="3.07"/>
</g>
<!-- bushing_washers -->
<g stroke-width="3.89">
<path d="M1337,1260 C1328,1262 1322,1275 1322.6,1290 C1323,1305 1330,1316 1340,1320 L1358,1329"/>
<path d="M1337,1260 C1345,1257 1352,1258 1358,1261 L1380,1274 C1390,1281 1394,1294 1392,1306"/>
<ellipse cx="1369" cy="1303" rx="21" ry="29" transform="rotate(25 1369 1303)"/>
<ellipse cx="1371" cy="1303" rx="11" ry="18" transform="rotate(25 1371 1303)"/>
<path d="M1352,1291 C1356,1283 1362,1279 1368,1279" stroke-width="3.07"/>
<ellipse cx="1413.4" cy="1327.1" rx="18.5" ry="28" transform="rotate(25 1413.4 1327.1)"/>
<ellipse cx="1413" cy="1327" rx="9" ry="17" transform="rotate(25 1413 1327)"/>
<ellipse cx="1455.5" cy="1353" rx="18.5" ry="28" transform="rotate(25 1455.5 1353)"/>
<ellipse cx="1455" cy="1353" rx="9" ry="16" transform="rotate(25 1455 1353)"/>
<ellipse cx="1493.6" cy="1375.2" rx="18" ry="27" transform="rotate(25 1493.6 1375.2)"/>
<ellipse cx="1493" cy="1375" rx="8.5" ry="16" transform="rotate(25 1493 1375)"/>
<ellipse cx="1539" cy="1401" rx="21" ry="30" transform="rotate(30 1539 1401)"/>
<path d="M1548,1390 C1545,1383 1540,1382 1535,1385 C1528,1390 1525,1402 1527,1411 C1529,1417 1535,1418 1540,1414" stroke-width="3.89"/>
</g>
<!-- yoke -->
<g stroke-width="3.89">
<path d="M217.4,1547.9 L214.1,1545.5 L211.0,1542.7 L208.2,1539.5 L205.8,1535.8 L203.6,1531.8 L201.8,1527.5 L200.3,1522.7 L199.2,1517.7 L198.4,1512.4 L197.9,1506.7 L197.9,1500.9 L198.1,1494.8 L198.8,1488.4 L199.7,1481.9 L201.0,1475.3 L202.7,1468.5 L204.7,1461.7 L207.0,1454.8 L209.6,1447.8 L212.6,1440.9 L215.8,1433.9 L219.3,1427.1 L223.1,1420.3 L227.1,1413.6 L231.3,1407.1 L235.8,1400.7 L240.4,1394.6 L245.2,1388.6 L250.2,1382.9 L255.3,1377.5 L260.5,1372.4 L265.8,1367.6 L271.1,1363.2 L276.5,1359.1 L281.9,1355.4 L287.3,1352.0 L292.7,1349.1 L298.0,1346.6 L303.3,1344.5 L308.4,1342.9 L313.4,1341.7 L318.3,1341.0 L323.0,1340.7 L327.6,1340.9 L331.9,1341.5 L336.0,1342.6 L339.9,1344.1 L343.6,1346.1" />
<path d="M343.6,1346.1 L553.6,1467.1 M217.4,1547.9 L427.4,1668.9"/>
<path d="M483.7,1663.0 L479.4,1665.3 L475.1,1667.4 L470.9,1669.3 L466.7,1670.8 L462.6,1672.1 L458.6,1673.1 L454.6,1673.8 L450.8,1674.2 L447.0,1674.3 L443.4,1674.1 L439.9,1673.7 L436.6,1672.9 L433.4,1671.9 L430.3,1670.5 L427.4,1668.9 L424.7,1667.0 L422.2,1664.9 L419.9,1662.5 L417.7,1659.8 L415.8,1656.8 L414.0,1653.7 L412.5,1650.3 L411.2,1646.6 L410.1,1642.8 L409.2,1638.7 L408.5,1634.5 L408.1,1630.0 L407.9,1625.4 L407.9,1620.7 L408.1,1615.8 L408.6,1610.7 L409.3,1605.6 L410.2,1600.3 L411.3,1595.0 L412.7,1589.5 L414.3,1584.1 L416.0,1578.5 L418.0,1573.0 L420.2,1567.4 L422.6,1561.9 L425.1,1556.3 L427.9,1550.8 L430.8,1545.3 L433.8,1539.9 L437.1,1534.6 L440.4,1529.4 L444.0,1524.2 L447.6,1519.2 L451.4,1514.4 L455.2,1509.6 L459.2,1505.1 L463.2,1500.7 L467.3,1496.5 L471.5,1492.4 L475.8,1488.6 L480.0,1485.0 L484.3,1481.7 L488.7,1478.5 L493.0,1475.7 L497.3,1473.0 L501.6,1470.7 L505.9,1468.6 L510.1,1466.7 L514.3,1465.2 L518.4,1463.9 L522.4,1462.9 L526.4,1462.2 L530.2,1461.8 L534.0,1461.7 L537.6,1461.9 L541.1,1462.3 L544.4,1463.1 L547.6,1464.1 L550.7,1465.5 L553.6,1467.1 L556.3,1469.0 L558.8,1471.1 L561.1,1473.5 L563.3,1476.2 L565.2,1479.2 L567.0,1482.3 L568.5,1485.7 L569.8,1489.4 L570.9,1493.2 L571.8,1497.3 L572.5,1501.5 L572.9,1506.0 L573.1,1510.6 L573.1,1515.3 L572.9,1520.2" />
<path d="M434.4,1662.4 L432.7,1660.7 L431.1,1658.9 L429.6,1657.0 L428.3,1654.9 L427.1,1652.6 L426.0,1650.2 L425.0,1647.7 L424.2,1645.0 L423.5,1642.2 L422.9,1639.3 L422.4,1636.2 L422.1,1633.0 L421.9,1629.8 L421.8,1626.4 L421.9,1622.9 L422.1,1619.4 L422.5,1615.7 L422.9,1612.0 L423.5,1608.2 L424.3,1604.3 L425.1,1600.4 L426.1,1596.4 L427.2,1592.4 L428.5,1588.4 L429.8,1584.3 L431.3,1580.2 L432.9,1576.1 L434.6,1572.0 L436.4,1567.8 L438.3,1563.7 L440.4,1559.6 L442.5,1555.6 L444.7,1551.5 L447.0,1547.5 L449.4,1543.5 L451.9,1539.6 L454.5,1535.8 L457.1,1532.0 L459.8,1528.2 L462.6,1524.6 L465.4,1521.0 L468.3,1517.6 L471.3,1514.2 L474.3,1510.9 L477.3,1507.8 L480.3,1504.7 L483.4,1501.8 L486.5,1499.0 L489.7,1496.3 L492.8,1493.8 L496.0,1491.4 L499.1,1489.1 L502.3,1487.0 L505.4,1485.0 L508.5,1483.2 L511.6,1481.6 L514.7,1480.1 L517.7,1478.8 L520.7,1477.6 L523.7,1476.6 L526.6,1475.8 L529.4,1475.2 L532.2,1474.7 L535.0,1474.4 L537.6,1474.3 L540.2,1474.3 L542.7,1474.5 L545.2,1474.9 L547.5,1475.5 L549.7,1476.2 L551.9,1477.1 L554.0,1478.2 L555.9,1479.5 L557.8,1480.9 L559.5,1482.4 L561.2,1484.2 L562.7,1486.1 L564.1,1488.1 L565.3,1490.3 L566.5,1492.6 L567.5,1495.1 L568.4,1497.7 L569.2,1500.4 L569.9,1503.3 L570.4,1506.3 L570.8,1509.4 L571.0,1512.6 L571.1,1516.0 L571.1,1519.4 L571.0,1522.9" />
<path d="M504.3,1482.5 C509,1495 511,1510 510.4,1522.2 C509,1540 503,1558 495.1,1571 C485,1588 470,1602 455.4,1610.7" stroke-width="3.54"/>
<path d="M522.6,1476.4 C529,1484 533,1492 534.8,1500.8 C536,1512 534,1525 531.8,1537.4" stroke-width="3.54"/>
<path d="M544,1482.5 C549,1495 552,1508 553.2,1522.2" stroke-width="4.72"/>
<path d="M553.2,1487 C557,1495 561,1505 562.3,1516" stroke-width="3.54"/>
<path d="M418.8,1598.5 L452.4,1613.8 L452.4,1626" stroke-width="3.54"/>
<ellipse cx="452.4" cy="1644.3" rx="5.5" ry="8.5" transform="rotate(25 452.4 1644.3)" stroke-width="3.54"/>
<path d="M424.9,1641.3 C440,1630 460,1622 482.9,1616.9 M434,1653.5 C448,1650 462,1647 476.8,1644.3 M431,1665.7 C445,1669 458,1670 470.7,1670.3" stroke-width="3.54"/>
<path d="M590.5,1678.9 L587.6,1681.7 L584.7,1684.5 L581.7,1687.1 L578.7,1689.7 L575.7,1692.1 L572.7,1694.4 L569.7,1696.5 L566.6,1698.6 L563.6,1700.5 L560.6,1702.2 L557.5,1703.9 L554.5,1705.4 L551.5,1706.7 L548.5,1708.0 L545.6,1709.0 L542.7,1710.0 L539.8,1710.7 L537.0,1711.4 L534.2,1711.8 L531.4,1712.2 L528.7,1712.3 L526.1,1712.3 L523.5,1712.2 L521.0,1711.9 L518.6,1711.5 L516.2,1710.9 L513.9,1710.2 L511.7,1709.3 L509.6,1708.3 L507.5,1707.1 L505.6,1705.8 L503.7,1704.3 L501.9,1702.7 L500.3,1701.0 L498.7,1699.1 L497.2,1697.1 L495.9,1695.0 L494.6,1692.7 L493.5,1690.3 L492.5,1687.8 L491.6,1685.2 L490.8,1682.5 L490.1,1679.7 L489.5,1676.7 L489.1,1673.7 L488.7,1670.6 L488.5,1667.4 L488.4,1664.1 L488.5,1660.7 L488.6,1657.3 L488.9,1653.8 L489.3,1650.2 L489.8,1646.6 L490.4,1642.9 L491.1,1639.2 L492.0,1635.4 L492.9,1631.6 L494.0,1627.8 L495.2,1624.0 L496.5,1620.1 L497.9,1616.3 L499.4,1612.4 L501.0,1608.5 L502.7,1604.7 L504.5,1600.8 L506.4,1597.0 L508.4,1593.2 L510.5,1589.4 L512.7,1585.7 L514.9,1582.0 L517.2,1578.4 L519.6,1574.8 L522.1,1571.3 L524.7,1567.8 L527.3,1564.4 L529.9,1561.1 L532.7,1557.9 L535.4,1554.7 L538.2,1551.7 L541.1,1548.7 L544.0,1545.9 L546.9,1543.1 L549.9,1540.5 L552.9,1537.9 L555.9,1535.5 L558.9,1533.2 L561.9,1531.1 L565.0,1529.0 L568.0,1527.1 L571.0,1525.4 L574.1,1523.7 L577.1,1522.2 L580.1,1520.9 L583.1,1519.6 L586.0,1518.6 L588.9,1517.6 L591.8,1516.9 L594.6,1516.2 L597.4,1515.8 L600.2,1515.4 L602.9,1515.3 L605.5,1515.3 L608.1,1515.4 L610.6,1515.7 L613.0,1516.1 L615.4,1516.7 L617.7,1517.4 L619.9,1518.3 L622.0,1519.3 L624.1,1520.5 L626.0,1521.8 L627.9,1523.3 L629.7,1524.9 L631.3,1526.6 L632.9,1528.5 L634.4,1530.5 L635.7,1532.6 L637.0,1534.9 L638.1,1537.3 L639.1,1539.8 L640.0,1542.4 L640.8,1545.1 L641.5,1547.9 L642.1,1550.9 L642.5,1553.9 L642.9,1557.0 L643.1,1560.2 L643.2,1563.5 L643.1,1566.9 L643.0,1570.3 L642.7,1573.8 L642.3,1577.4 L641.8,1581.0 L641.2,1584.7 L640.5,1588.4 L639.6,1592.2 L638.7,1596.0 L637.6,1599.8 L636.4,1603.6" />
<path d="M498.2,1659.6 C505,1620 530,1570 573,1539" stroke-width="3.54"/>
<path d="M505.5,1641 C515,1605 535,1575 547,1556" stroke-width="3.54"/>
<path d="M513,1614 C520,1595 530,1578 541,1562" stroke-width="3.54"/>
<path d="M489,1661 C495,1630 505,1600 525,1570 C535,1555 548,1545 560,1538" stroke-width="3.54"/>
<path d="M286.9,1334 C275,1314 262,1309 251.5,1309.5 C235,1310 220,1316 210,1324.2 C195,1336 183,1348 173.3,1363.3 C160,1383 152,1400 148.9,1407.3 C142,1425 139,1440 140.3,1456.2 C141,1475 144,1484 148.9,1490.4 C155,1500 160,1504 168.4,1505 L189.2,1507.5" stroke-width="5.07"/>
</g>
<!-- armature -->
<g stroke-width="4.01">
<path d="M597,1593 L580,1590 C570,1588 559,1593 553,1601 C548,1608 549,1619 555,1625 L569,1633"/>
<path d="M596.2,1593.7 L650,1614 M604.6,1680.8 L630,1693"/>
<path d="M597,1594 C586,1596 575,1606 570,1620 C565,1635 566,1652 573.7,1661.2 C580,1672 590,1679 604.6,1680.8"/>
<path d="M590,1599 L640,1619" stroke-width="3.54"/>
<path d="M578,1612 L628,1633" stroke-width="3.54"/>
<path d="M572,1627 L622,1648" stroke-width="3.54"/>
<path d="M570,1642 L616,1662" stroke-width="3.54"/>
<path d="M574,1657 L612,1675" stroke-width="3.54"/>
<ellipse cx="631" cy="1649.5" rx="15" ry="42" transform="rotate(20 631 1649.5)"/>
<ellipse cx="636" cy="1652" rx="10" ry="37" transform="rotate(20 636 1652)" stroke-width="3.30"/>
<path d="M708,1614 C702,1608 697,1605 691.6,1605.6 C680,1605 668,1608 660.5,1612 C650,1618 642,1626 636.7,1635.8 C628,1650 622,1665 620.2,1678 C619,1690 619,1698 620.2,1703.6 C622,1712 625,1718 629.3,1722 L644,1737"/>
<path d="M644.0,1737.0 L642.5,1735.9 L641.1,1734.5 L640.0,1732.7 L639.1,1730.6 L638.5,1728.1 L638.0,1725.3 L637.8,1722.2 L637.9,1718.9 L638.1,1715.2 L638.6,1711.3 L639.4,1707.2 L640.3,1702.9 L641.5,1698.4 L642.9,1693.7 L644.5,1689.0 L646.3,1684.2 L648.3,1679.3 L650.4,1674.4 L652.7,1669.5 L655.2,1664.6 L657.7,1659.9 L660.4,1655.2 L663.2,1650.6 L666.1,1646.2 L669.0,1642.0 L672.0,1637.9 L674.9,1634.1 L677.9,1630.6 L680.9,1627.3 L683.9,1624.4 L686.8,1621.7 L689.6,1619.4 L692.4,1617.4 L695.0,1615.8 L697.6,1614.6 L700.0,1613.7 L702.2,1613.2 L704.3,1613.1 L706.3,1613.4 L708.0,1614.0" />
<path d="M638.2,1726.6 C628.2,1722.6 616.2,1713.4 619.9,1708.1" stroke-width="3.30"/>
<path d="M639.5,1706.7 C629.5,1702.7 617.5,1694.7 617.5,1690.7" stroke-width="3.30"/>
<path d="M647.6,1680.9 C637.6,1676.9 625.6,1670.2 621.8,1667.4" stroke-width="3.30"/>
<path d="M661.0,1654.1 C651.0,1650.1 639.0,1644.6 634.5,1643.1" stroke-width="3.30"/>
<path d="M677.3,1631.4 C667.3,1627.4 655.3,1623.1 654.5,1622.9" stroke-width="3.30"/>
<path d="M693.3,1616.8 C683.3,1612.8 671.3,1609.8 674.3,1610.8" stroke-width="3.30"/>
<path d="M708.0,1614.0 L875,1703.6 M644.0,1737.0 L774.0,1803.0"/>
<path d="M701.5,1613.3 L831.5,1679.3" stroke-width="3.54"/>
<path d="M693.3,1616.8 L823.3,1682.8" stroke-width="3.54"/>
<path d="M681.9,1626.3 L811.9,1692.3" stroke-width="3.54"/>
<path d="M670.6,1639.7 L800.6,1705.7" stroke-width="3.54"/>
<path d="M661.0,1654.1 L791.0,1720.1" stroke-width="3.54"/>
<path d="M652.4,1670.0 L782.4,1736.0" stroke-width="3.54"/>
<path d="M645.5,1686.3 L775.5,1752.3" stroke-width="3.54"/>
<path d="M640.6,1701.9 L770.6,1767.9" stroke-width="3.54"/>
<path d="M638.0,1717.3 L768.0,1783.3" stroke-width="3.54"/>
<path d="M638.5,1728.4 L768.5,1794.4" stroke-width="3.54"/>
<path d="M774.0,1803.0 L772.5,1801.9 L771.1,1800.5 L770.0,1798.7 L769.1,1796.6 L768.5,1794.1 L768.0,1791.3 L767.8,1788.2 L767.9,1784.9 L768.1,1781.2 L768.6,1777.3 L769.4,1773.2 L770.3,1768.9 L771.5,1764.4 L772.9,1759.7 L774.5,1755.0 L776.3,1750.2 L778.3,1745.3 L780.4,1740.4 L782.7,1735.5 L785.2,1730.6 L787.7,1725.9 L790.4,1721.2 L793.2,1716.6 L796.1,1712.2 L799.0,1708.0 L802.0,1703.9 L804.9,1700.1 L807.9,1696.6 L810.9,1693.3 L813.9,1690.4 L816.8,1687.7 L819.6,1685.4 L822.4,1683.4 L825.0,1681.8 L827.6,1680.6 L830.0,1679.7 L832.2,1679.2 L834.3,1679.1 L836.3,1679.4 L838.0,1680.0" />
<path d="M838,1680 L875,1703.6 C882,1712 886,1725 885.9,1736.6 C886,1745 885,1752 884,1758.6 C878,1785 865,1805 849.2,1815.4 C840,1822 830,1825 819.9,1826.4 C805,1828 790,1825 776,1819 L774.0,1803.0"/>
<path d="M820.0,1698.0 C822.7,1701.3 832.4,1710.0 836.4,1718.0 C840.4,1726.0 841.9,1736.6 843.7,1745.8 C845.5,1755.0 847.7,1764.8 847.4,1773.0 C847.1,1781.2 842.9,1791.3 842.0,1795.0" stroke-width="3.30"/>
<path d="M809.0,1707.0 C811.7,1710.4 821.4,1719.4 825.4,1727.4 C829.4,1735.4 830.6,1745.5 832.7,1755.0 C834.8,1764.5 837.3,1779.3 838.2,1784.2" stroke-width="3.30"/>
<path d="M798.0,1722.0 C800.7,1725.0 810.1,1733.0 814.4,1740.0 C818.7,1747.0 820.8,1755.4 823.6,1764.0 C826.4,1772.6 829.8,1787.0 831.0,1791.6" stroke-width="3.30"/>
<path d="M787.0,1736.6 C789.4,1739.0 797.3,1745.2 801.6,1751.3 C805.9,1757.4 808.0,1765.3 812.6,1773.3 C817.2,1781.2 826.3,1794.7 829.0,1799.0" stroke-width="3.30"/>
<path d="M779.6,1755.0 C782.0,1756.8 789.6,1761.2 794.2,1766.0 C798.8,1770.8 801.5,1777.3 807.0,1784.0 C812.5,1790.7 823.7,1802.3 827.0,1806.0" stroke-width="3.30"/>
<path d="M772.0,1777.0 C774.8,1778.2 783.9,1781.0 788.8,1784.0 C793.7,1787.0 795.5,1790.4 801.6,1795.0 C807.7,1799.6 821.4,1808.9 825.4,1811.7" stroke-width="3.30"/>
<path d="M770.4,1806.0 C774.1,1806.7 784.1,1808.2 792.4,1810.0 C800.7,1811.8 815.4,1815.8 820.0,1817.0" stroke-width="3.30"/>
<path d="M838.2,1692.6 C840.7,1696.9 849.2,1709.4 852.9,1718.3 C856.6,1727.2 859.9,1736.6 860.2,1745.8 C860.5,1755.0 857.2,1765.9 854.7,1773.3 C852.2,1780.7 846.6,1787.2 845.0,1790.0" stroke-width="3.30"/>
<path d="M856.5,1698.0 C858.6,1702.9 866.9,1717.9 869.4,1727.4 C871.9,1736.9 872.1,1748.0 871.2,1755.0 C870.3,1762.0 867.5,1764.1 864.0,1769.6 C860.5,1775.1 852.3,1784.9 850.0,1788.0" stroke-width="3.30"/>
<path d="M869.4,1709.0 C871.2,1713.6 879.5,1728.9 880.4,1736.6 C881.3,1744.3 878.4,1747.8 875.0,1755.0 C871.6,1762.2 862.5,1775.8 860.0,1780.0" stroke-width="3.30"/>
<path d="M845.6,1766 C850,1762 856,1760 863,1761 L933.4,1790.4 M852.9,1819 L905.3,1843.8"/>
<path d="M863,1761 C850,1765 842,1780 843,1795 C844,1808 850,1816 858,1820" stroke-width="3.54"/>
<path d="M849,1790 C848,1800 850,1810 854,1816" stroke-width="3.07"/>
<path d="M912.5,1847.8 L911.2,1847.4 L909.9,1846.8 L908.7,1845.9 L907.6,1844.9 L906.6,1843.8 L905.8,1842.4 L905.0,1840.9 L904.4,1839.2 L903.9,1837.4 L903.5,1835.5 L903.2,1833.4 L903.1,1831.3 L903.2,1829.0 L903.3,1826.7 L903.6,1824.3 L904.0,1821.9 L904.6,1819.5 L905.2,1817.1 L906.0,1814.6 L906.9,1812.2 L908.0,1809.9 L909.1,1807.6 L910.3,1805.4 L911.6,1803.2 L912.9,1801.2 L914.4,1799.3 L915.9,1797.5 L917.4,1795.9 L919.0,1794.4 L920.6,1793.1 L922.2,1792.0 L923.9,1791.0 L925.5,1790.3 L927.1,1789.7 L928.6,1789.3 L930.2,1789.2 L931.6,1789.2 L933.0,1789.4 L934.4,1789.9 L935.6,1790.5" />
<path d="M914.5,1845.0 L913.6,1844.5 L912.8,1843.9 L912.0,1843.1 L911.3,1842.2 L910.7,1841.1 L910.2,1839.9 L909.8,1838.6 L909.4,1837.1 L909.2,1835.6 L909.1,1833.9 L909.0,1832.2 L909.1,1830.3 L909.2,1828.4 L909.5,1826.4 L909.9,1824.4 L910.3,1822.4 L910.8,1820.3 L911.5,1818.3 L912.2,1816.2 L912.9,1814.1 L913.8,1812.1 L914.7,1810.1 L915.7,1808.2 L916.8,1806.3 L917.9,1804.6 L919.0,1802.9 L920.2,1801.3 L921.4,1799.8 L922.6,1798.4 L923.9,1797.2 L925.1,1796.1 L926.4,1795.1 L927.6,1794.3 L928.9,1793.7 L930.1,1793.2 L931.3,1792.8 L932.4,1792.6 L933.5,1792.6 L934.5,1792.7 L935.5,1793.0" stroke-width="3.07"/>
<path d="M938.6,1794.2 L1007,1832 M909.3,1845.5 L977.7,1885.8"/>
<ellipse cx="990" cy="1857.7" rx="19" ry="29.5" transform="rotate(25 990 1857.7)"/>
<path d="M943.7,1807.0 L986.5,1831.2" stroke-width="3.30"/>
<path d="M942.0,1820.8 L976.7,1840.2" stroke-width="3.30"/>
<path d="M936.2,1832.4 L970.0,1851.4" stroke-width="3.30"/>
<path d="M928.9,1842.3 L967.0,1864.4" stroke-width="3.30"/>
<path d="M902.9,1837.5 L970.2,1878.9" stroke-width="3.30"/>
</g>
<!-- bottomparts -->
<g stroke-width="4.01">
<path d="M1048.6,1858 C1060,1862 1066,1875 1064,1890 C1062,1910 1050,1926 1032,1930 C1018,1932 1008,1922 1007,1906 C1006,1890 1015,1875 1025,1866"/>
<path d="M1055,1862 C1058,1872 1058,1885 1055,1897 C1050,1912 1040,1920 1030,1917 C1020,1914 1015,1905 1016,1892 C1017,1880 1022,1872 1030,1866" stroke-width="3.54"/>
<path d="M1025.4,1866 C1024,1858 1028,1853 1033,1853 C1039,1854 1041,1860 1040,1866 C1038,1872 1032,1874 1028,1873" stroke-width="3.54"/>
<path d="M1048.6,1858 C1049,1850 1052,1846 1056,1846 C1060,1847 1060,1853 1058,1858 M1054,1852 L1056,1855" stroke-width="3.54"/>
<circle cx="1032" cy="1863" r="1.8" fill="#000"/>
<ellipse cx="1098.7" cy="1921.3" rx="31" ry="43" transform="rotate(22 1098.7 1921.3)"/>
<ellipse cx="1100" cy="1922.5" rx="18" ry="25" transform="rotate(22 1100 1922.5)"/>
<ellipse cx="1162.2" cy="1961.5" rx="31" ry="43" transform="rotate(22 1162.2 1961.5)"/>
<ellipse cx="1162" cy="1961.5" rx="18" ry="25" transform="rotate(22 1162 1961.5)"/>
<path d="M1231,1946.8 C1215,1948 1198,1960 1190,1980 C1182,2000 1183,2025 1195,2040 C1202,2049 1212,2052 1220,2051"/>
<path d="M1231,1946.8 L1259,1954"/>
<ellipse cx="1236" cy="2002.5" rx="34" ry="51" transform="rotate(22 1236 2002.5)"/>
<ellipse cx="1235" cy="2002" rx="27" ry="40" transform="rotate(22 1235 2002)"/>
<ellipse cx="1235" cy="2004" rx="20" ry="30" transform="rotate(22 1235 2004)" stroke-width="3.54"/>
<ellipse cx="1234.5" cy="2004" rx="13" ry="21" transform="rotate(22 1234.5 2004)" stroke-width="3.54"/>
<path d="M1205,2010 C1205,1990 1212,1975 1222,1967" stroke-width="5.31"/>
<path d="M1307.4,1998.7 C1290,2000 1272,2015 1266,2035 C1260,2055 1263,2075 1275,2087 L1300,2100"/>
<path d="M1307.4,1998.7 L1340,2015"/>
<ellipse cx="1331.8" cy="2062.8" rx="29" ry="43" transform="rotate(22 1331.8 2062.8)"/>
<ellipse cx="1332" cy="2063" rx="23" ry="36" transform="rotate(22 1332 2063)" stroke-width="3.54"/>
<rect x="1300" y="2014" width="8" height="24" rx="3" transform="rotate(-62 1300 2014)" stroke-width="3.30"/>
<rect x="1290" y="2036" width="8" height="24" rx="3" transform="rotate(-62 1290 2036)" stroke-width="3.30"/>
<rect x="1281" y="2060" width="8" height="24" rx="3" transform="rotate(-62 1281 2060)" stroke-width="3.30"/>
<rect x="1322" y="2048" width="7" height="24" rx="3" transform="rotate(-62 1322 2048)" stroke-width="3.30"/>
<rect x="1317" y="2070" width="7" height="24" rx="3" transform="rotate(-62 1317 2070)" stroke-width="3.30"/>
<rect x="1314" y="2092" width="7" height="24" rx="3" transform="rotate(-62 1314 2092)" stroke-width="3.30"/>
<path d="M1483.6,2192.1 L1478.0,2198.0 L1472.2,2203.5 L1466.2,2208.5 L1460.0,2213.1 L1453.7,2217.3 L1447.3,2221.0 L1440.8,2224.2 L1434.2,2226.8 L1427.6,2229.0 L1421.1,2230.6 L1414.5,2231.6 L1408.1,2232.1 L1401.8,2232.1 L1395.6,2231.4 L1389.6,2230.3 L1383.8,2228.6 L1378.2,2226.4 L1372.8,2223.6 L1367.8,2220.3 L1363.1,2216.5 L1358.6,2212.3 L1354.6,2207.6 L1350.9,2202.5 L1347.6,2196.9 L1344.7,2191.0 L1342.2,2184.7 L1340.2,2178.1 L1338.6,2171.2 L1337.4,2164.0 L1336.7,2156.7 L1336.5,2149.1 L1336.7,2141.4 L1337.4,2133.6 L1338.5,2125.7 L1340.1,2117.7 L1342.1,2109.8 L1344.5,2101.9 L1347.4,2094.1 L1350.7,2086.5 L1354.3,2078.9 L1358.4,2071.6 L1362.8,2064.5 L1367.5,2057.6 L1372.5,2051.1 L1377.8,2044.9 L1383.4,2039.0 L1389.2,2033.5 L1395.2,2028.5 L1401.4,2023.9 L1407.7,2019.7 L1414.1,2016.0 L1420.6,2012.8 L1427.2,2010.2 L1433.8,2008.0 L1440.3,2006.4 L1446.9,2005.4 L1453.3,2004.9 L1459.6,2004.9 L1465.8,2005.6 L1471.8,2006.7 L1477.6,2008.4 L1483.2,2010.6 L1488.6,2013.4 L1493.6,2016.7 L1498.3,2020.5 L1502.8,2024.7 L1506.8,2029.4 L1510.5,2034.5 L1513.8,2040.1 L1516.7,2046.0" />
<path d="M1402.4,2226.8 L1396.5,2225.8 L1390.8,2224.3 L1385.4,2222.2 L1380.2,2219.6 L1375.3,2216.4 L1370.7,2212.8 L1366.4,2208.6 L1362.6,2204.0 L1359.1,2198.9 L1355.9,2193.4 L1353.2,2187.5 L1351.0,2181.3 L1349.2,2174.7 L1347.8,2167.9 L1346.9,2160.7 L1346.4,2153.4 L1346.5,2145.9 L1347.0,2138.2 L1347.9,2130.5 L1349.3,2122.7 L1351.2,2114.8 L1353.5,2107.0 L1356.2,2099.3 L1359.4,2091.6 L1362.9,2084.2 L1366.8,2076.9 L1371.1,2069.8 L1375.8,2063.0 L1380.7,2056.5 L1385.9,2050.3" stroke-width="3.54"/>
<path d="M1438.8,2007.9 C1450,2004 1462,2003 1472.4,2004.8 C1485,2008 1495,2014 1503,2021.6 C1512,2032 1518,2042 1521.3,2052.2 C1525,2066 1526,2078 1525.8,2088.8 C1525,2096 1524,2102 1522.8,2107"/>
<path d="M1458,2016 L1478,2012" stroke-width="3.54"/>
<path d="M1469.3,2085.8 C1455,2086 1432,2100 1422,2122 C1415,2138 1416,2160 1428,2175 L1472.4,2205"/>
<path d="M1469.3,2085.8 L1508,2105"/>
<ellipse cx="1497" cy="2154.5" rx="30" ry="53" transform="rotate(25 1497 2154.5)"/>
<ellipse cx="1500.6" cy="2159" rx="15" ry="26" transform="rotate(25 1500.6 2159)"/>
<ellipse cx="1499" cy="2157" rx="23" ry="42" transform="rotate(25 1499 2157)" stroke-width="3.54"/>
<path d="M1442,2140 C1438,2152 1439,2168 1444,2180 M1452,2126 C1448,2140 1448,2160 1452,2172 M1463,2104 C1470,2099 1480,2098 1490,2101 M1486,2113 C1492,2110 1500,2110 1505,2112 M1460,2124 L1464,2117" stroke-width="3.54"/>
<ellipse cx="1575.5" cy="2203.4" rx="37" ry="57" transform="rotate(25 1575.5 2203.4)"/>
</g>
<!-- brushscrew -->
<g stroke-width="3.89">
<path d="M1100,1247 C1098,1240 1104,1236 1110,1238 C1116,1240 1118,1247 1116,1251"/>
<path d="M1100,1247 L1118,1283 M1116,1251 L1134,1279"/>
<path d="M1103,1255 C1108,1258 1116,1256 1118,1252 M1107,1262 C1112,1265 1120,1263 1122,1259 M1110,1269 C1115,1272 1123,1270 1125,1266 M1114,1276 C1119,1279 1127,1277 1129,1273" stroke-width="3.54"/>
<path d="M1108.6,1285.7 L1122,1276 L1155,1285.7 L1140.4,1298 Z M1108.6,1285.7 L1108.6,1294 L1136,1311 L1155,1294 L1155,1285.7 M1140.4,1298 L1136,1311"/>
</g>
</svg>
</body></html>
